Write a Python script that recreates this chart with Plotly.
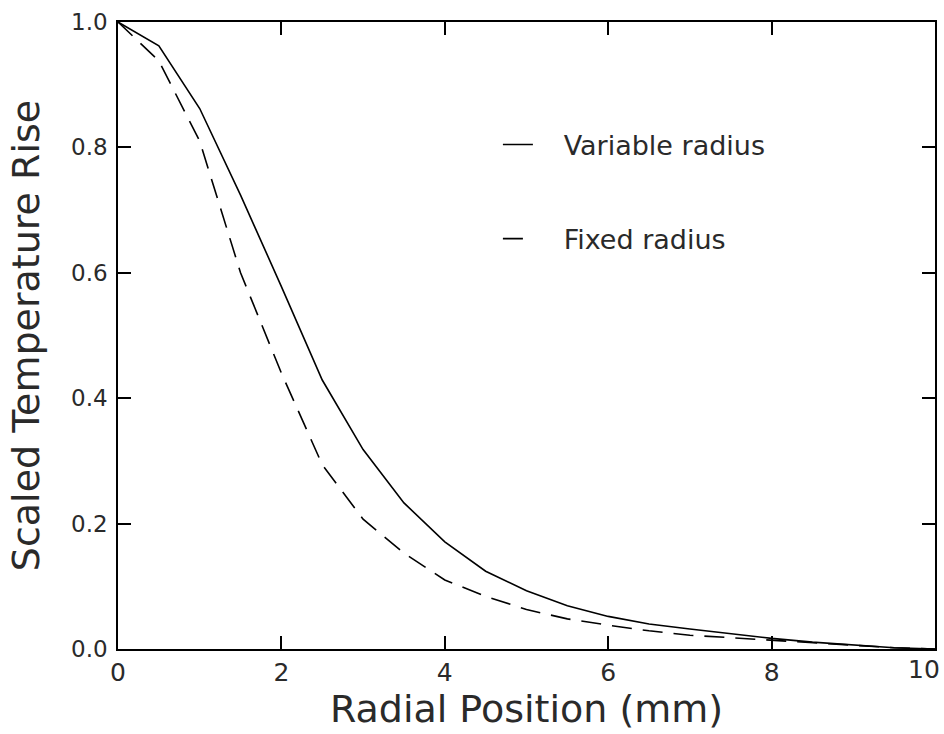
import plotly.graph_objects as go

radial_mm = [0.0, 0.5, 1.0, 1.5, 2.0, 2.5, 3.0, 3.5, 4.0, 4.5, 5.0, 5.5, 6.0,
             6.5, 7.0, 7.5, 8.0, 8.5, 9.0, 9.5, 10.0]
variable_radius = [1.0, 0.962, 0.862, 0.724, 0.578, 0.429, 0.318, 0.233, 0.171,
                   0.124, 0.093, 0.069, 0.052, 0.040, 0.032, 0.024, 0.017,
                   0.011, 0.006, 0.002, 0.0]
fixed_radius = [1.0, 0.938, 0.81, 0.60, 0.44, 0.294, 0.207, 0.153, 0.110,
                0.084, 0.063, 0.048, 0.038, 0.029, 0.022, 0.018, 0.013,
                0.009, 0.005, 0.002, 0.0]

x_ticks = [0, 2, 4, 6, 8, 10]
x_tick_text = ["0", "2", "4", "6", "8", "10"]
y_ticks = [0.0, 0.2, 0.4, 0.6, 0.8, 1.0]
y_tick_text = ["0.0", "0.2", "0.4", "0.6", "0.8", "1.0"]
series_names = ["Variable radius", "Fixed radius"]

FONT = "DejaVu Sans"
TEXT = "#2a2a2a"
PAD = "\u00a0\u00a0\u00a0"

fig = go.Figure()
fig.add_trace(go.Scatter(
    x=radial_mm, y=variable_radius, mode="lines", name=PAD + series_names[0],
    legendgroup="a", line=dict(color="black", width=1.6)))
fig.add_trace(go.Scatter(
    x=radial_mm, y=fixed_radius, mode="lines", name=PAD + series_names[1],
    legendgroup="b", line=dict(color="black", width=1.6, dash="20px,11px")))

axis_common = dict(
    showline=True, linecolor="black", linewidth=1.5, mirror="ticks",
    ticks="inside", ticklen=13, tickwidth=1.5, tickcolor="black",
    showgrid=False, zeroline=False, automargin=False,
)

# the last x label sits flush with the right edge (as in the reference),
# so it is drawn as an annotation right-anchored at its tick
shown_x_text = x_tick_text[:-1] + [""]

fig.update_layout(
    width=944, height=734,
    margin=dict(l=118, r=9, t=22, b=85),
    paper_bgcolor="white", plot_bgcolor="white",
    xaxis=dict(range=[0, 10], tickvals=x_ticks, ticktext=shown_x_text,
               tickfont=dict(family=FONT, size=25, color=TEXT),
               ticklabelstandoff=0,
               title=dict(text="Radial Position (mm)",
                          font=dict(family=FONT, size=38, color=TEXT), standoff=10),
               **axis_common),
    yaxis=dict(range=[0, 1.0], tickvals=y_ticks, ticktext=y_tick_text,
               tickfont=dict(family=FONT, size=23, color=TEXT),
               ticklabelstandoff=4,
               title=dict(text="Scaled Temperature Rise",
                          font=dict(family=FONT, size=38, color=TEXT), standoff=20),
               **axis_common),
    showlegend=True,
    legend=dict(x=0.465, y=0.843, xanchor="left", yanchor="top",
                bgcolor="rgba(0,0,0,0)", borderwidth=0,
                font=dict(family=FONT, size=27, color=TEXT),
                tracegroupgap=56, itemwidth=30),
)

fig.add_annotation(
    x=x_ticks[-1], xref="x", y=0, yref="paper", text=x_tick_text[-1],
    showarrow=False, xanchor="right", yanchor="middle", xshift=7, yshift=-20,
    font=dict(family=FONT, size=25, color=TEXT))

fig.write_html("out.html")
